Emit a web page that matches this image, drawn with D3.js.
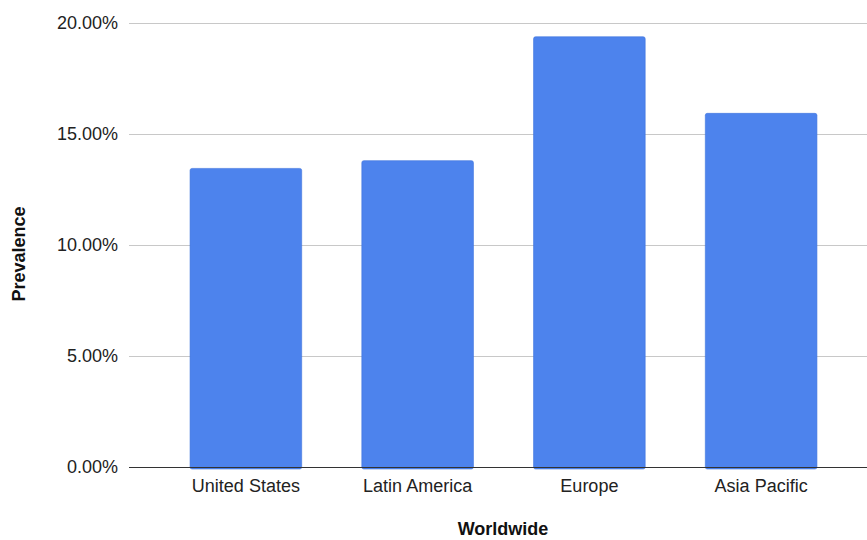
<!DOCTYPE html>
<html>
<head>
<meta charset="utf-8">
<script src="https://cdn.jsdelivr.net/npm/d3@7"></script>
<style>
  body { margin: 0; background: #fff; }
  svg { display: block; font-family: Arial, "Liberation Sans", Helvetica, sans-serif; }
</style>
</head>
<body>
<div id="chart"></div>
<script>
(function(){

    var regions = ['United States', 'Latin America', 'Europe', 'Asia Pacific'];
    var prevalence = [0.1345, 0.1380, 0.1938, 0.1593];
    var yTicks = [0, 0.05, 0.10, 0.15, 0.20];

    var width = 867;
    var height = 540;

    var margin = {
        top: 23,
        bottom: 73,
        left: 129,
        right: 0
    };

    var pformat = d3.format('.2%');

    var svg = d3.select('#chart')
        .append('svg')
            .attr('width', width)
            .attr('height', height);

    var plotW = width - margin.left - margin.right;
    var plotH = height - margin.top - margin.bottom;

    var g = svg.append('g')
        .attr('transform', 'translate(' + margin.left + ',' + margin.top + ')');

    var yScale = d3.scaleLinear()
        .domain([0, 0.20])
        .range([plotH, 0]);

    var xScale = d3.scaleBand()
        .domain(regions)
        .range([31, 718])
        .paddingInner(0.35)
        .paddingOuter(0.175);

    // gridlines + tick labels
    var yAxis = d3.axisLeft(yScale)
        .tickValues(yTicks)
        .tickFormat(pformat)
        .tickSize(-plotW)
        .tickPadding(11);

    var yg = g.append('g')
        .attr('class', 'y axis')
        .call(yAxis);

    yg.select('.domain').remove();
    yg.selectAll('.tick line')
        .attr('stroke', '#c8c8c8')
        .attr('stroke-width', 1);
    yg.selectAll('.tick text')
        .attr('font-size', '18px')
        .attr('fill', '#222');

    // bars
    g.selectAll('.bar')
        .data(regions)
        .enter()
        .append('rect')
        .attr('class', 'bar')
        .attr('x', function(d){ return xScale(d); })
        .attr('y', function(d, i){ return yScale(prevalence[i]); })
        .attr('width', xScale.bandwidth())
        .attr('height', function(d, i){ return plotH - yScale(prevalence[i]) + 2; })
        .attr('rx', 2)
        .attr('fill', '#4d83ed')
        .attr('stroke', '#3e74de')
        .attr('stroke-width', 0.6);

    // baseline + x labels
    var xAxis = d3.axisBottom(xScale)
        .tickSize(0)
        .tickPadding(12);

    var xg = g.append('g')
        .attr('class', 'x axis')
        .attr('transform', 'translate(0,' + plotH + ')')
        .call(xAxis);

    xg.select('.domain').remove();
    xg.selectAll('.tick text')
        .attr('font-size', '18px')
        .attr('fill', '#222');

    g.append('line')
        .attr('x1', 0)
        .attr('x2', plotW)
        .attr('y1', plotH + 0.5)
        .attr('y2', plotH + 0.5)
        .attr('stroke', '#333')
        .attr('stroke-width', 1.2);

    // axis titles
    svg.append('text')
        .attr('x', 503)
        .attr('y', 535)
        .attr('text-anchor', 'middle')
        .attr('font-size', '18px')
        .attr('font-weight', 'bold')
        .attr('fill', '#111')
        .text('Worldwide');

    svg.append('text')
        .attr('transform', 'translate(25,254) rotate(-90)')
        .attr('text-anchor', 'middle')
        .attr('font-size', '18px')
        .attr('font-weight', 'bold')
        .attr('fill', '#111')
        .text('Prevalence');

})();
</script>
</body>
</html>
